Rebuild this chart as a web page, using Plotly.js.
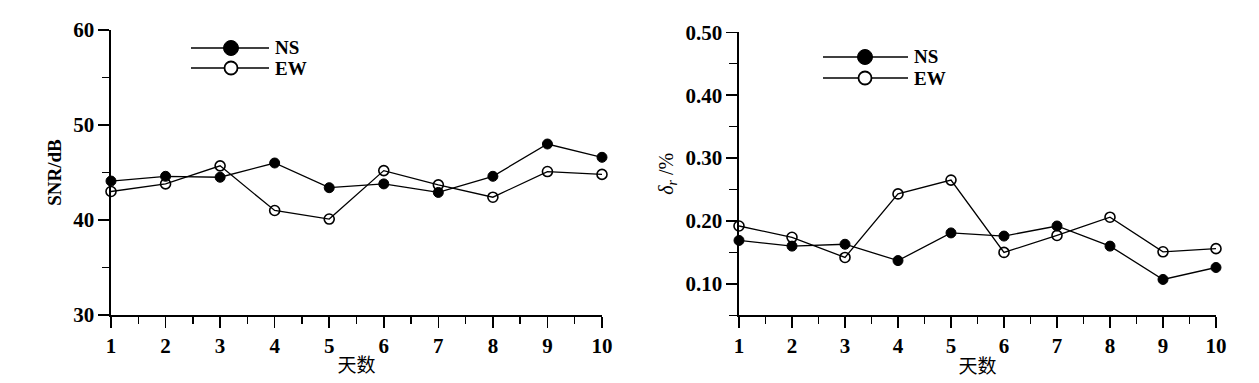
<!DOCTYPE html>
<html>
<head>
<meta charset="utf-8">
<script src="https://cdn.plot.ly/plotly-3.0.1.min.js"></script>
<style>html,body{margin:0;padding:0;background:#fff;}#chart{width:1259px;height:383px;}</style>
</head>
<body>
<div id="chart"></div>
<script>
const days = [1, 2, 3, 4, 5, 6, 7, 8, 9, 10];
const dayTicks = ['1', '2', '3', '4', '5', '6', '7', '8', '9', '10'];
const snrNS = [44.1, 44.6, 44.5, 46.0, 43.4, 43.8, 42.9, 44.6, 48.0, 46.6];
const snrEW = [43.0, 43.8, 45.7, 41.0, 40.1, 45.2, 43.7, 42.4, 45.1, 44.8];
const errNS = [0.169, 0.160, 0.163, 0.137, 0.181, 0.176, 0.192, 0.160, 0.107, 0.126];
const errEW = [0.192, 0.174, 0.142, 0.243, 0.265, 0.150, 0.177, 0.206, 0.151, 0.156];
const snrTicks = [30, 40, 50, 60];
const errTicks = [0.10, 0.20, 0.30, 0.40, 0.50];
const errTickText = ['0.10', '0.20', '0.30', '0.40', '0.50'];
const seriesNames = ['NS', 'EW'];

const W = 1259, H = 383;
const px = x => x / W;
const py = y => 1 - y / H;
const serif = 'Liberation Serif, Times New Roman, serif';
const tickFont = {family: serif, size: 21, color: '#000', weight: 'bold'};

function line(x, y, xa, ya, filled, name) {
  return {
    x: x, y: y, xaxis: xa, yaxis: ya, name: name, type: 'scatter', mode: 'lines+markers',
    cliponaxis: false, showlegend: false,
    line: {color: '#000', width: 1.3},
    marker: filled ? {symbol: 'circle', size: 10, color: '#000', line: {color: '#000', width: 1}}
                   : {symbol: 'circle-open', size: 10, color: '#000', line: {color: '#000', width: 1.6}}
  };
}

const traces = [
  line(days, snrNS, 'x', 'y', true, seriesNames[0]),
  line(days, snrEW, 'x', 'y', false, seriesNames[1]),
  line(days, errNS, 'x2', 'y2', true, seriesNames[0]),
  line(days, errEW, 'x2', 'y2', false, seriesNames[1])
];

function xax(domain, anchor) {
  return {
    domain: domain, anchor: anchor, range: [1, 10], tickvals: days, ticktext: dayTicks,
    showline: true, linecolor: '#000', linewidth: 1.6, ticks: 'outside', ticklen: 11, tickwidth: 1.6,
    tickcolor: '#000', showgrid: false, zeroline: false, tickfont: tickFont,
    minor: {tick0: 1, dtick: 0.5, ticks: 'outside', ticklen: 7, tickwidth: 1.4, tickcolor: '#000', showgrid: false},
    title: {text: '天数', font: {family: 'Noto Sans CJK SC, serif', size: 19, color: '#000'}, standoff: 2}
  };
}

const layout = {
  width: W, height: H,
  margin: {l: 0, r: 0, t: 0, b: 0},
  paper_bgcolor: '#fff', plot_bgcolor: 'rgba(0,0,0,0)',
  showlegend: false,
  xaxis: xax([px(111), px(602)], 'y'),
  xaxis2: xax([px(739), px(1216)], 'y2'),
  yaxis: {
    domain: [py(315), py(30)], anchor: 'x', range: [30, 60], tickvals: snrTicks,
    showline: true, linecolor: '#000', linewidth: 1.6, ticks: 'outside', ticklen: 11, tickwidth: 1.6,
    tickcolor: '#000', showgrid: false, zeroline: false, tickfont: tickFont,
    minor: {tick0: 30, dtick: 5, ticks: 'outside', ticklen: 7, tickwidth: 1.4, tickcolor: '#000', showgrid: false},
    title: {text: 'SNR/dB', font: {family: serif, size: 19, color: '#000', weight: 'bold'}, standoff: 6}
  },
  yaxis2: {
    domain: [py(315.3), py(32.3)], anchor: 'x2', range: [0.05, 0.50], tickvals: errTicks, ticktext: errTickText,
    showline: true, linecolor: '#000', linewidth: 1.6, ticks: 'outside', ticklen: 11, tickwidth: 1.6,
    tickcolor: '#000', showgrid: false, zeroline: false, tickfont: tickFont,
    minor: {tick0: 0.05, dtick: 0.05, ticks: 'outside', ticklen: 8, tickwidth: 1.4, tickcolor: '#000', showgrid: false},
    title: {text: '<i>δ</i><sub><i>r</i></sub> /%', font: {family: serif, size: 20, color: '#000'}, standoff: 6}
  },
  shapes: [],
  annotations: []
};

function legend(x0, x1, xm, yNS, yEW, xt) {
  const rows = [[yNS, true, seriesNames[0]], [yEW, false, seriesNames[1]]];
  rows.forEach(([y, filled, name]) => {
    layout.shapes.push({type: 'line', xref: 'paper', yref: 'paper', x0: px(x0), x1: px(x1), y0: py(y), y1: py(y),
      line: {color: '#000', width: 1.4}});
    const r = filled ? 7.5 : 6.5;
    layout.shapes.push({type: 'circle', xref: 'paper', yref: 'paper', xsizemode: 'pixel', ysizemode: 'pixel',
      xanchor: px(xm), yanchor: py(y), x0: -r, x1: r, y0: -r, y1: r,
      fillcolor: filled ? '#000' : '#fff', line: {color: '#000', width: filled ? 1 : 1.8}});
    layout.annotations.push({xref: 'paper', yref: 'paper', x: px(xt), y: py(y), xanchor: 'left', yanchor: 'middle',
      text: name, showarrow: false, font: {family: serif, size: 19, color: '#000', weight: 'bold'}});
  });
}
legend(191, 269, 231, 48, 68, 273);
legend(823, 908, 865, 57, 78, 912);

Plotly.newPlot('chart', traces, layout, {staticPlot: true});
</script>
</body>
</html>
